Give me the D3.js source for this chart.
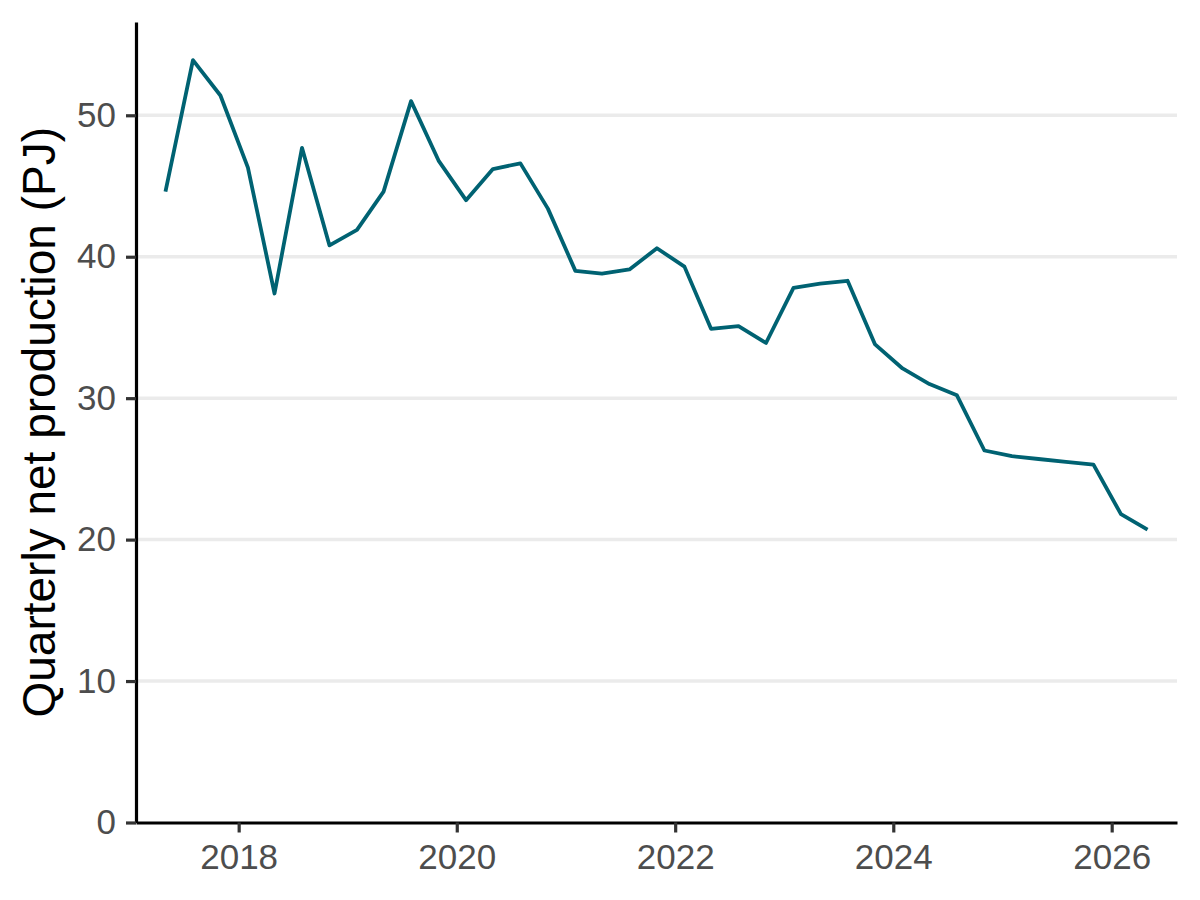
<!DOCTYPE html>
<html>
<head>
<meta charset="utf-8">
<script src="https://cdn.jsdelivr.net/npm/d3@7"></script>
<style>
  html, body { margin: 0; padding: 0; background: #ffffff; }
  svg { display: block; font-family: "Liberation Sans", Arial, sans-serif; }
</style>
</head>
<body>
<svg id="chart" width="1200" height="900"></svg>
<script>
// ---- data ----
const quarters = [
  "2017-05-01","2017-08-01","2017-11-01",
  "2018-02-01","2018-05-01","2018-08-01","2018-11-01",
  "2019-02-01","2019-05-01","2019-08-01","2019-11-01",
  "2020-02-01","2020-05-01","2020-08-01","2020-11-01",
  "2021-02-01","2021-05-01","2021-08-01","2021-11-01",
  "2022-02-01","2022-05-01","2022-08-01","2022-11-01",
  "2023-02-01","2023-05-01","2023-08-01","2023-11-01",
  "2024-02-01","2024-05-01","2024-08-01","2024-11-01",
  "2025-02-01","2025-05-01","2025-08-01","2025-11-01",
  "2026-02-01","2026-05-01"
];
const production = [
  44.6, 53.9, 51.4,
  46.3, 37.4, 47.7, 40.8,
  41.9, 44.6, 51.0, 46.8,
  44.0, 46.2, 46.6, 43.4,
  39.0, 38.8, 39.1, 40.6,
  39.3, 34.9, 35.1, 33.9,
  37.8, 38.1, 38.3, 33.8,
  32.1, 31.0, 30.2, 26.3,
  25.9, 25.7, 25.5, 25.3,
  21.8, 20.7
];
const xTickYears = [2018, 2020, 2022, 2024, 2026];
const yTickValues = [0, 10, 20, 30, 40, 50];
const yTitle = "Quarterly net production (PJ)";

// ---- layout ----
const svg = d3.select("#chart");
const plotLeft = 136, plotRight = 1177, plotTop = 22, plotBottom = 822.5;

const parse = d3.utcParse("%Y-%m-%d");
const data = quarters.map((q, i) => ({ date: parse(q), value: production[i] }));

const ext = d3.extent(data, d => d.date);
const span = ext[1] - ext[0];
const x = d3.scaleUtc()
  .domain([new Date(+ext[0] - 0.03 * span), new Date(+ext[1] + 0.03 * span)])
  .range([plotLeft, plotRight]);

const yMax = d3.max(production) * 1.05;
const y = d3.scaleLinear().domain([0, yMax]).range([plotBottom, plotTop]);

// gridlines
svg.append("g")
  .selectAll("line")
  .data(yTickValues.filter(v => v > 0))
  .join("line")
  .attr("x1", plotLeft).attr("x2", plotRight)
  .attr("y1", d => y(d)).attr("y2", d => y(d))
  .attr("stroke", "#ebebeb")
  .attr("stroke-width", 3.5);

// line
const line = d3.line().x(d => x(d.date)).y(d => y(d.value));
svg.append("path")
  .datum(data)
  .attr("d", line)
  .attr("fill", "none")
  .attr("stroke", "#006272")
  .attr("stroke-width", 3.8)
  .attr("stroke-linejoin", "round");

// axes
const xAxis = d3.axisBottom(x)
  .tickValues(xTickYears.map(yr => new Date(Date.UTC(yr, 0, 1))))
  .tickFormat(d3.utcFormat("%Y"))
  .tickSize(10).tickSizeOuter(0).tickPadding(12);
const gx = svg.append("g").attr("transform", `translate(0,${plotBottom})`).call(xAxis);

const yAxis = d3.axisLeft(y)
  .tickValues(yTickValues)
  .tickFormat(d3.format("d"))
  .tickSize(10).tickSizeOuter(0).tickPadding(10);
const gy = svg.append("g").attr("transform", `translate(${plotLeft},0)`).call(yAxis);

[gx, gy].forEach(g => {
  g.select(".domain").attr("stroke", "#000").attr("stroke-width", 3.2);
  g.selectAll(".tick line").attr("stroke", "#333333").attr("stroke-width", 3.2);
  g.selectAll(".tick text")
    .attr("fill", "#4d4d4d")
    .style("font-size", "35px")
    .style("font-family", "'Liberation Sans', Arial, sans-serif");
});

// y title
svg.append("text")
  .attr("transform", `translate(55,${(plotTop + plotBottom) / 2}) rotate(-90)`)
  .attr("text-anchor", "middle")
  .attr("fill", "#000")
  .style("font-size", "46px")
  .text(yTitle);
</script>
</body>
</html>
